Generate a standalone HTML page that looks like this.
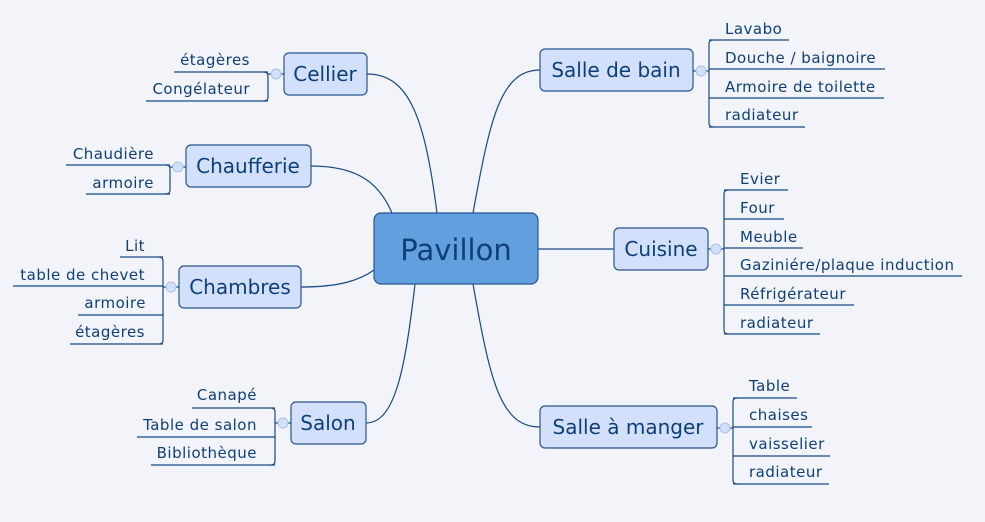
<!DOCTYPE html>
<html><head><meta charset="utf-8"><style>
html,body{margin:0;padding:0;background:#f2f4f9;}
svg{display:block;font-family:"DejaVu Sans","Liberation Sans",sans-serif;}
.it{font-size:15px;letter-spacing:0.5px;fill:#0e3f7a;}
.br{font-size:20px;fill:#0e3f7a;}
.ln{stroke:#164a86;stroke-width:1.2;fill:none;}
.bx{fill:#d3e0fb;stroke:#2b5590;stroke-width:1.2;}
.cc{fill:#d3e0fb;stroke:#a9c2e6;stroke-width:1;}
</style></head><body>
<svg width="985" height="522" viewBox="0 0 985 522">
<path class="ln" d="M473,213 C490,120 500,70 540,70"/>
<path class="ln" d="M538,249 L614,249"/>
<path class="ln" d="M473,284 C490,380 500,427 540,427"/>
<path class="ln" d="M437,213 C425,120 410,74 367,74"/>
<path class="ln" d="M392,213 C380,185 360,166 311,166"/>
<path class="ln" d="M374,270 C360,280 340,287 301,287"/>
<path class="ln" d="M415,284 C405,370 395,423 366,423"/>

<rect x="374" y="213" width="164" height="71" rx="7" fill="#629fdf" stroke="#2b5590" stroke-width="1.2"/>
<text x="456" y="260" text-anchor="middle" font-size="29" fill="#0e3f7a">Pavillon</text>

<rect class="bx" x="540" y="49" width="153" height="42" rx="5"/>
<text class="br" x="616" y="77" text-anchor="middle">Salle de bain</text>
<path class="ln" d="M693,71 L709,71 M713,40 Q709,40 709,44 L709,123 Q709,127 713,127"/>
<circle class="cc" cx="701" cy="71" r="5"/>
<path class="ln" d="M709,40 H789 M709,69 H885 M709,98 H884 M709,127 H805"/>
<text class="it" x="725" y="34">Lavabo</text>
<text class="it" x="725" y="63">Douche / baignoire</text>
<text class="it" x="725" y="92">Armoire de toilette</text>
<text class="it" x="725" y="120">radiateur</text>

<rect class="bx" x="614" y="228" width="94" height="42" rx="5"/>
<text class="br" x="661" y="256" text-anchor="middle">Cuisine</text>
<path class="ln" d="M708,249 L724,249 M728,190 Q724,190 724,194 L724,330 Q724,334 728,334"/>
<circle class="cc" cx="716" cy="249" r="5"/>
<path class="ln" d="M724,190 H788 M724,219 H784 M724,248 H803 M724,276 H962 M724,305 H854 M724,334 H820"/>
<text class="it" x="740" y="184">Evier</text>
<text class="it" x="740" y="213">Four</text>
<text class="it" x="740" y="242">Meuble</text>
<text class="it" x="740" y="270">Gaziniére/plaque induction</text>
<text class="it" x="740" y="299">Réfrigérateur</text>
<text class="it" x="740" y="328">radiateur</text>

<rect class="bx" x="540" y="406" width="177" height="42" rx="5"/>
<text class="br" x="628" y="434" text-anchor="middle">Salle à manger</text>
<path class="ln" d="M717,428 L733,428 M737,398 Q733,398 733,402 L733,480 Q733,484 737,484"/>
<circle class="cc" cx="725" cy="428" r="5"/>
<path class="ln" d="M733,398 H797 M733,427 H812 M733,456 H830 M733,484 H829"/>
<text class="it" x="749" y="391">Table</text>
<text class="it" x="749" y="420">chaises</text>
<text class="it" x="749" y="449">vaisselier</text>
<text class="it" x="749" y="477">radiateur</text>

<rect class="bx" x="284" y="53" width="83" height="42" rx="5"/>
<text class="br" x="325" y="81" text-anchor="middle">Cellier</text>
<path class="ln" d="M284,74 L268,74 M264,72 Q268,72 268,76 L268,97 Q268,101 264,101"/>
<circle class="cc" cx="276" cy="74" r="5"/>
<path class="ln" d="M268,72 H174 M268,101 H146"/>
<text class="it" x="250" y="65" text-anchor="end">étagères</text>
<text class="it" x="250" y="94" text-anchor="end">Congélateur</text>

<rect class="bx" x="186" y="145" width="125" height="42" rx="5"/>
<text class="br" x="248" y="173" text-anchor="middle">Chaufferie</text>
<path class="ln" d="M186,167 L170,167 M166,165 Q170,165 170,169 L170,190 Q170,194 166,194"/>
<circle class="cc" cx="178" cy="167" r="5"/>
<path class="ln" d="M170,165 H66 M170,194 H86"/>
<text class="it" x="154" y="159" text-anchor="end">Chaudière</text>
<text class="it" x="154" y="188" text-anchor="end">armoire</text>

<rect class="bx" x="179" y="266" width="122" height="42" rx="5"/>
<text class="br" x="240" y="294" text-anchor="middle">Chambres</text>
<path class="ln" d="M179,287 L163,287 M159,257 Q163,257 163,261 L163,340 Q163,344 159,344"/>
<circle class="cc" cx="171" cy="287" r="5"/>
<path class="ln" d="M163,257 H120 M163,286 H13 M163,315 H78 M163,344 H70"/>
<text class="it" x="145" y="251" text-anchor="end">Lit</text>
<text class="it" x="145" y="280" text-anchor="end">table de chevet</text>
<text class="it" x="146" y="308" text-anchor="end">armoire</text>
<text class="it" x="145" y="337" text-anchor="end">étagères</text>

<rect class="bx" x="291" y="402" width="75" height="42" rx="5"/>
<text class="br" x="328" y="430" text-anchor="middle">Salon</text>
<path class="ln" d="M291,423 L275,423 M271,408 Q275,408 275,412 L275,461 Q275,465 271,465"/>
<circle class="cc" cx="283" cy="423" r="5"/>
<path class="ln" d="M275,408 H192 M275,437 H137 M275,465 H151"/>
<text class="it" x="257" y="400" text-anchor="end">Canapé</text>
<text class="it" x="257" y="430" text-anchor="end">Table de salon</text>
<text class="it" x="257" y="458" text-anchor="end">Bibliothèque</text>
</svg>
</body></html>
